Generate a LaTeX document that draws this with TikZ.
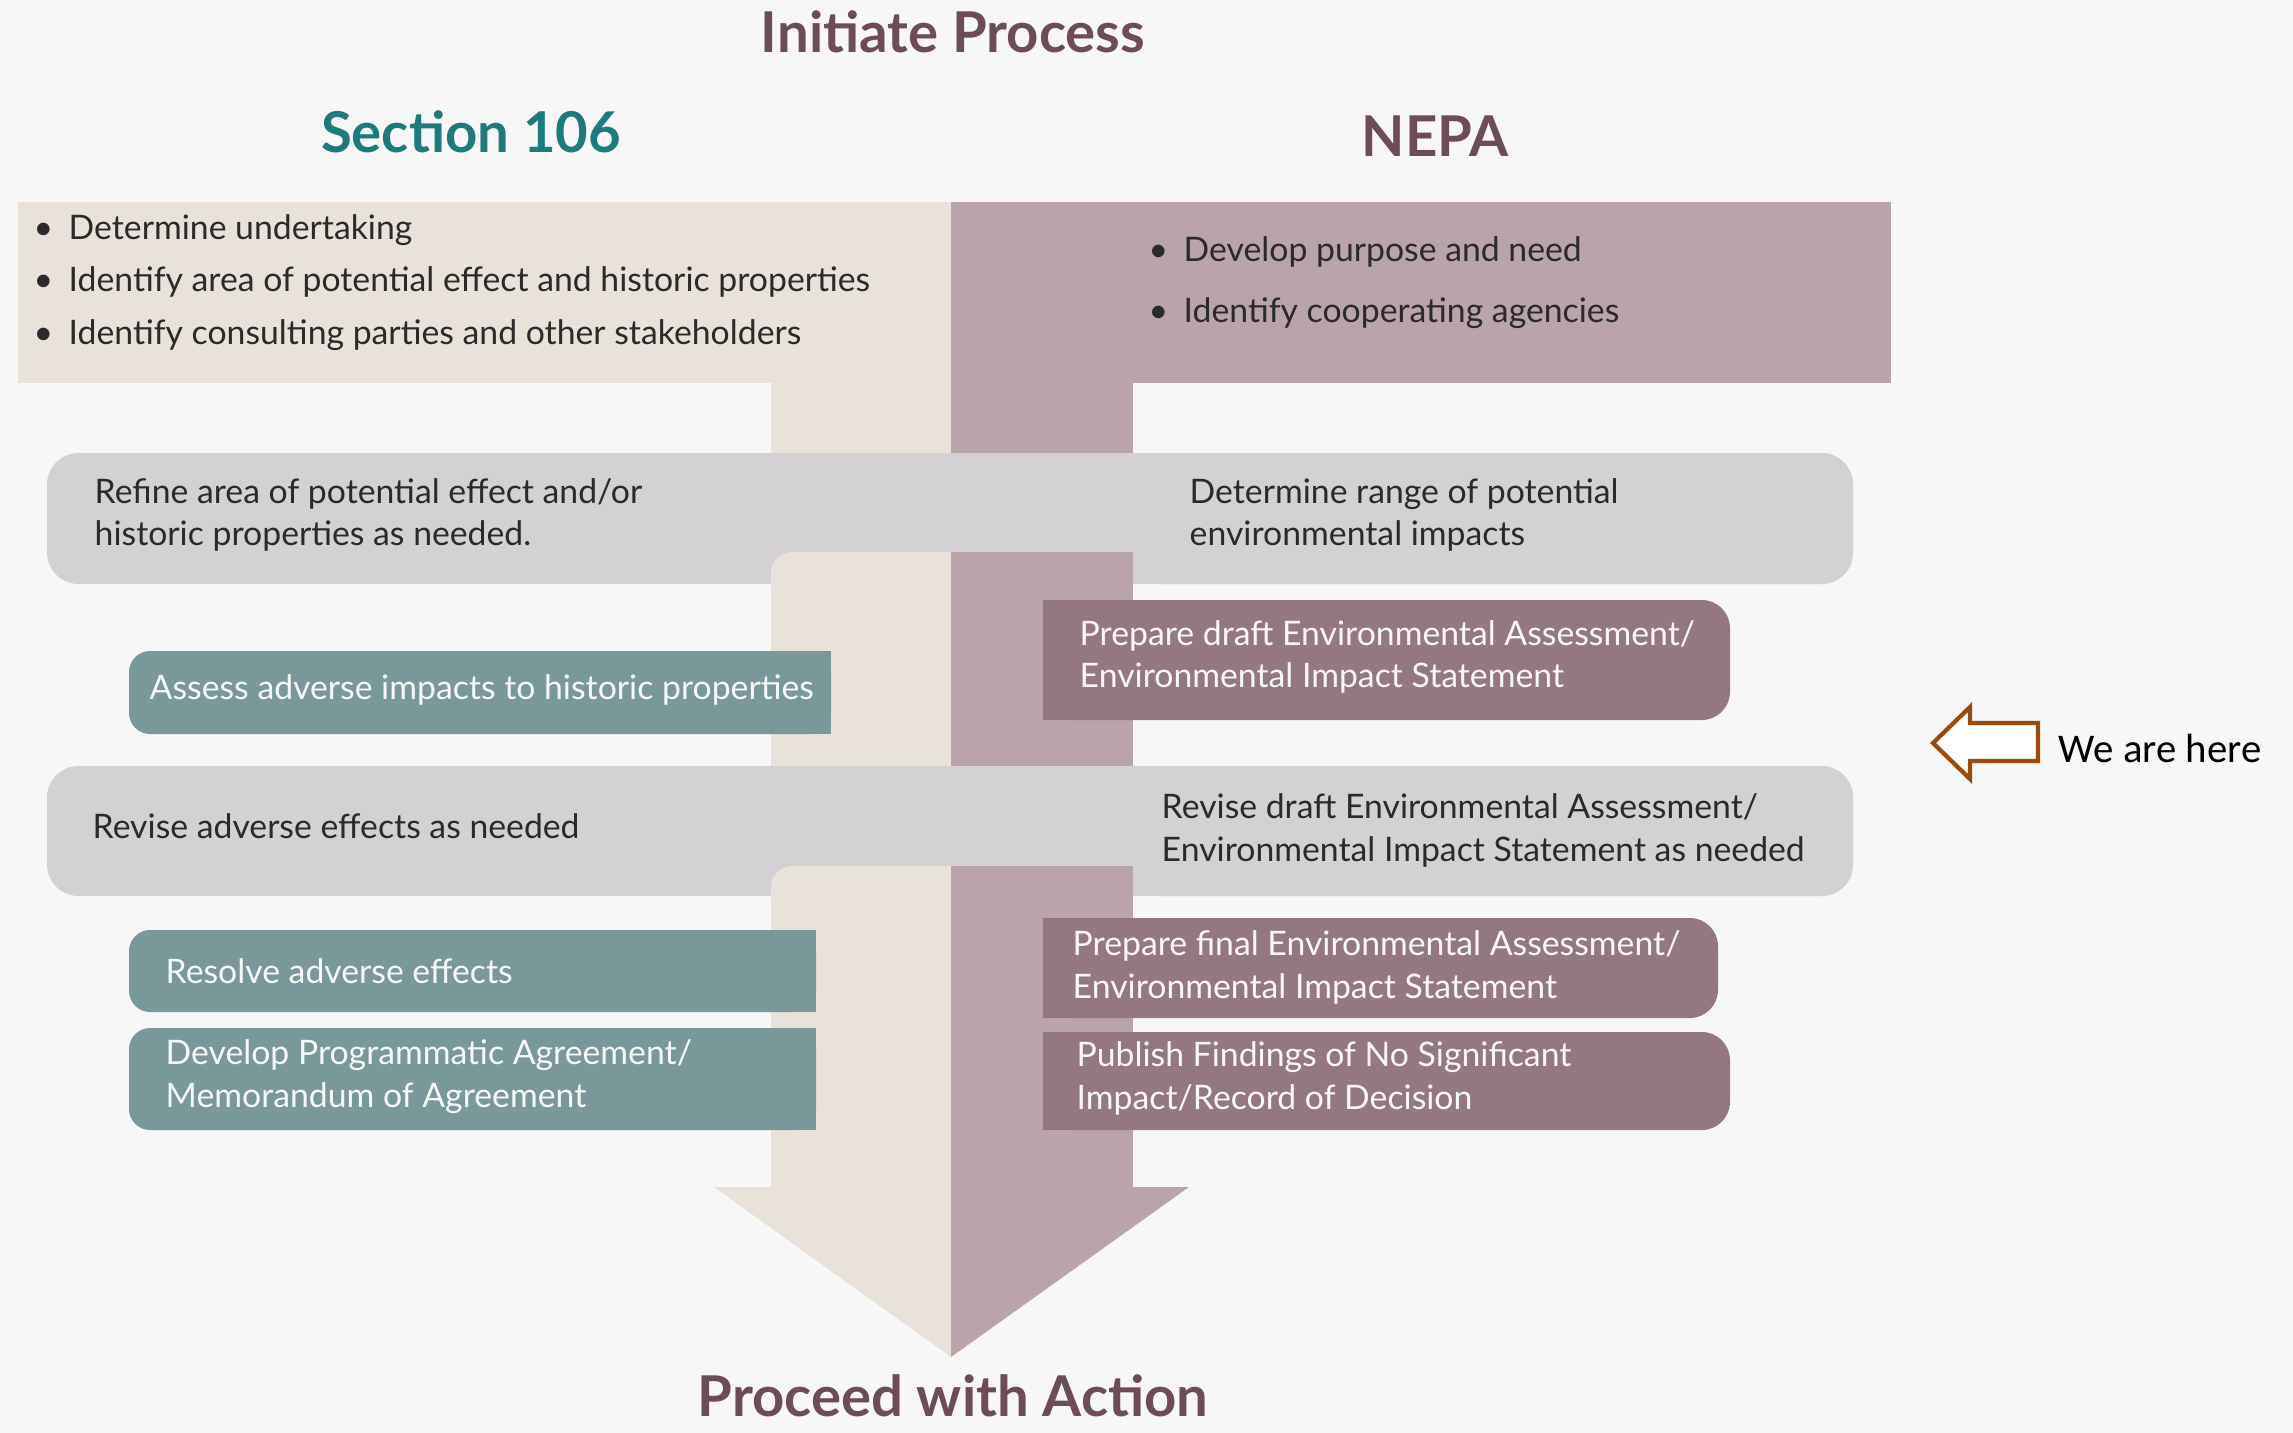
\documentclass[tikz,border=0pt]{standalone}
\usepackage{fontspec}
\setmainfont{Lato}
\newfontfamily\herefont{Carlito}
\usepackage{xcolor}
\usepackage{tikz}
\usetikzlibrary{positioning}

\definecolor{pagebg}{HTML}{F7F7F7}
\definecolor{beigeband}{HTML}{E9E2DB}
\definecolor{mauveband}{HTML}{B9A4A9}
\definecolor{grayband}{HTML}{D3D1D4}
\definecolor{tealbox}{HTML}{7A9799}
\definecolor{mauvebox}{HTML}{937880}
\definecolor{headmauve}{HTML}{6B4C58}
\definecolor{headteal}{HTML}{1E7B7C}
\definecolor{darktext}{HTML}{2A2A2A}
\definecolor{herebrown}{HTML}{9A4A0C}

\tikzstyle{heading} = [font=\bfseries\fontsize{16}{19}\selectfont, inner sep=0pt, text=headmauve]
\tikzstyle{steptext} = [anchor=west, align=left, inner sep=0pt, font=\fontsize{9.6}{12.2}\selectfont, text=darktext]
\tikzstyle{boxtext} = [steptext, text=white!94!gray]
\newcommand{\blt}{\makebox[0.35cm][l]{\textbullet}}

\begin{document}
\begin{tikzpicture}[x=0.01cm, y=-0.01cm]
    \fill[pagebg] (0,0) rectangle (2293,1433);
    \useasboundingbox (0,0) rectangle (2293,1433);

    % Bands and arrow
    \fill[beigeband] (18,202) rectangle (951,383);
    \fill[mauveband] (951,202) rectangle (1891,383);
    \fill[beigeband] (771,383) rectangle (951,1187);
    \fill[mauveband] (951,383) rectangle (1133,1187);
    \fill[beigeband] (714,1187) -- (951,1187) -- (951,1357) -- cycle;
    \fill[mauveband] (951,1187) -- (1189,1187) -- (951,1357) -- cycle;

    \fill[grayband, rounded corners=9pt] (47,453) rectangle (1853,584);
    \fill[beigeband, rounded corners=6pt] (771,552) rectangle (951,700);
    \fill[beigeband] (800,552) rectangle (951,766);
    \fill[beigeband] (771,600) rectangle (951,766);
    \fill[mauveband] (951,552) rectangle (1133,766);
    \fill[grayband, rounded corners=9pt] (1133,453) rectangle (1853,584);

    \fill[grayband, rounded corners=9pt] (47,766) rectangle (1853,896);
    \fill[beigeband, rounded corners=6pt] (771,866) rectangle (951,1000);
    \fill[beigeband] (800,866) rectangle (951,1187);
    \fill[beigeband] (771,900) rectangle (951,1187);
    \fill[mauveband] (951,866) rectangle (1133,1187);
    \fill[grayband, rounded corners=9pt] (1133,766) rectangle (1853,896);

    % Step boxes
    \fill[tealbox, rounded corners=6pt] (129,651) rectangle (831,734);
    \fill[tealbox] (480,651) rectangle (831,734);
    \fill[tealbox, rounded corners=6pt] (129,930) rectangle (816,1012);
    \fill[tealbox] (480,930) rectangle (816,1012);
    \fill[tealbox, rounded corners=6pt] (129,1028) rectangle (816,1130);
    \fill[tealbox] (480,1028) rectangle (816,1130);
    \fill[mauvebox, rounded corners=8pt] (1043,600) rectangle (1730,720);
    \fill[mauvebox] (1043,600) rectangle (1400,720);
    \fill[mauvebox, rounded corners=8pt] (1043,918) rectangle (1718,1018);
    \fill[mauvebox] (1043,918) rectangle (1400,1018);
    \fill[mauvebox, rounded corners=8pt] (1043,1032) rectangle (1730,1130);
    \fill[mauvebox] (1043,1032) rectangle (1400,1130);

    % Headings
    \node[heading] (initiate) at (953,32) {Initiate Process};
    \node[heading, text=headteal] (sec106) at (471,132) {Section 106};
    \node[heading] (nepa) at (1435,136) {NEPA};
    \node[heading, anchor=base] (proceed) at (953,1416) {Proceed with Action};

    % Section 106 steps
    \node[steptext] (undertaking) at (33,230) {\blt Determine undertaking};
    \node[steptext] (area) at (33,282) {\blt Identify area of potential effect and historic properties};
    \node[steptext] (parties) at (33,335) {\blt Identify consulting parties and other stakeholders};
    \node[steptext] (refine) at (94,515) {Refine area of potential effect and/or\\historic properties as needed.};
    \node[boxtext] (assess) at (149,690) {Assess adverse impacts to historic properties};
    \node[steptext] (revise) at (92,826) {Revise adverse effects as needed};
    \node[boxtext] (resolve) at (165,971) {Resolve adverse effects};
    \node[boxtext] (agreement) at (165,1077) {Develop Programmatic Agreement/\\Memorandum of Agreement};

    % NEPA steps
    \node[steptext] (purpose) at (1148,252) {\blt Develop purpose and need};
    \node[steptext] (agencies) at (1148,313) {\blt Identify cooperating agencies};
    \node[steptext] (range) at (1189,515) {Determine range of potential\\environmental impacts};
    \node[boxtext] (drafteis) at (1079,657) {Prepare draft Environmental Assessment/\\Environmental Impact Statement};
    \node[steptext] (reviseeis) at (1161,830) {Revise draft Environmental Assessment/\\Environmental Impact Statement as needed};
    \node[boxtext] (finaleis) at (1072,967) {Prepare final Environmental Assessment/\\Environmental Impact Statement};
    \node[boxtext] (fonsi) at (1076,1078) {Publish Findings of No Significant\\Impact/Record of Decision};

    % We are here
    \node[anchor=west, inner sep=0pt, font=\herefont\fontsize{11.6}{14}\selectfont] (here) at (2058,748) {We are here};
    \draw[herebrown, fill=white, line width=1.2pt, line join=miter]
        (1933,743) -- (1970,707) -- (1970,723) -- (2038,723) -- (2038,761)
        -- (1970,761) -- (1970,779) -- cycle;

\end{tikzpicture}
\end{document}
